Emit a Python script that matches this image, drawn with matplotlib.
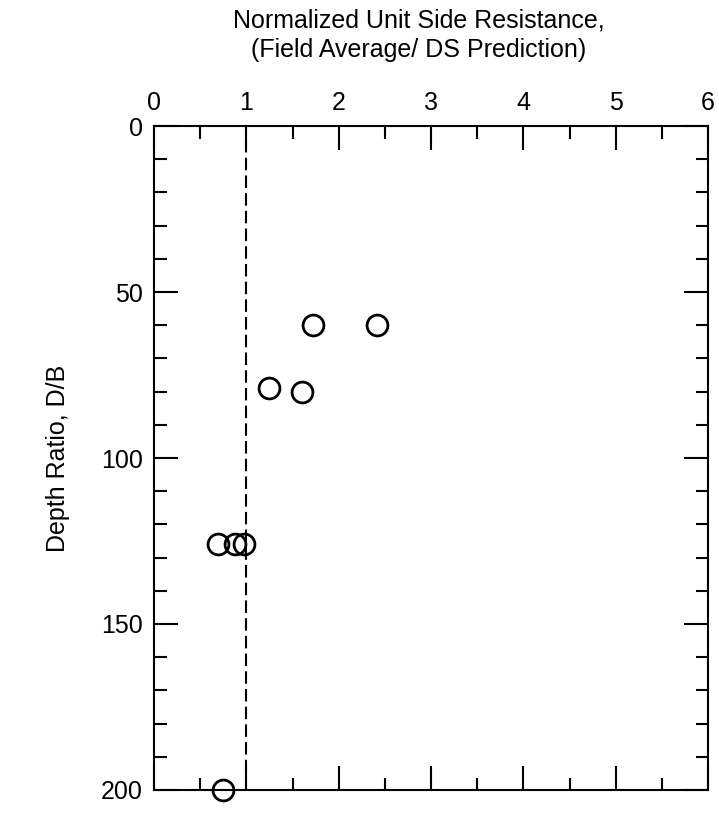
import numpy as np
import matplotlib.pyplot as plt
from matplotlib.ticker import MultipleLocator

plt.rcParams['font.family'] = ['Liberation Sans', 'DejaVu Sans']

# --- Data --- #
ratio = [1.72, 2.41, 1.24, 1.60, 0.69, 0.88, 0.97, 0.75]
depth_ratio = [60, 60, 79, 80, 126, 126, 126, 200]
x_ticks = [0, 1, 2, 3, 4, 5, 6]
y_ticks = [0, 50, 100, 150, 200]

fig = plt.figure(figsize=(7.19, 8.13), dpi=100)
ax = fig.add_axes([0.2142, 0.0283, 0.7705, 0.8167])

# dashed reference line at ratio = 1
ax.axvline(1.0, color='black', linestyle=(0, (6, 2.5)), linewidth=1.5)

ax.plot(ratio, depth_ratio, linestyle='none', marker='o', markersize=15,
        markerfacecolor='none', markeredgecolor='black', markeredgewidth=2, clip_on=False)

ax.set_xlim(0, 6)
ax.set_ylim(200, 0)
ax.set_xticks(x_ticks)
ax.set_yticks(y_ticks)
ax.xaxis.set_minor_locator(MultipleLocator(0.5))
ax.yaxis.set_minor_locator(MultipleLocator(10))

ax.xaxis.tick_top()
ax.tick_params(which='both', direction='in', top=True, bottom=True, left=True, right=True,
               labeltop=True, labelbottom=False, width=1.5, labelsize=18, pad=8)
ax.tick_params(which='major', length=17)
ax.tick_params(which='minor', length=9)

for s in ax.spines.values():
    s.set_linewidth(1.5)

ax.set_ylabel('Depth Ratio, D/B', fontsize=18, labelpad=22)
fig.text(0.582, 0.99, 'Normalized Unit Side Resistance,\n(Field Average/ DS Prediction)',
         ha='center', va='top', fontsize=18, linespacing=1.3)

fig.savefig('out.png', dpi=100)
